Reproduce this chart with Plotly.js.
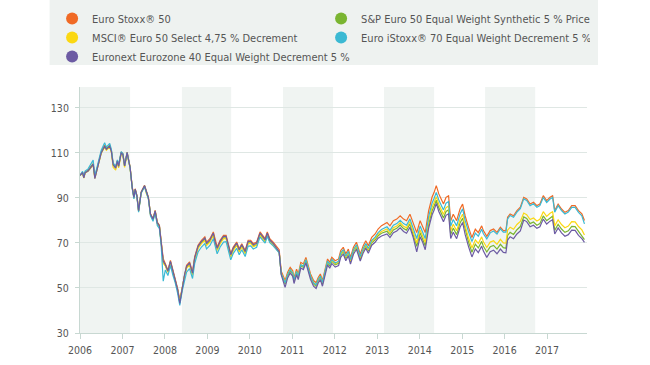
<!DOCTYPE html>
<html>
<head>
<meta charset="utf-8">
<script src="https://cdn.plot.ly/plotly-3.0.1.min.js"></script>
<style>html,body{margin:0;padding:0;background:#fff;}#chart{width:650px;height:365px;}</style>
</head>
<body>
<div id="chart"></div>
<script>
const seriesNames = ["Euro Stoxx® 50", "S&P Euro 50 Equal Weight Synthetic 5 % Price", "MSCI® Euro 50 Select 4,75 % Decrement", "Euro iStoxx® 70 Equal Weight Decrement 5 %", "Euronext Eurozone 40 Equal Weight Decrement 5 %"];
const seriesColors = ["#f06a25", "#7ab531", "#fbd812", "#3bb9d3", "#6c5ba3"];
const yTicks = [30, 50, 70, 90, 110, 130];
const xTicks = [2006, 2007, 2008, 2009, 2010, 2011, 2012, 2013, 2014, 2015, 2016, 2017];

const years = [2006.00,2006.06,2006.09,2006.12,2006.19,2006.25,2006.31,2006.35,2006.40,2006.50,2006.58,2006.62,2006.70,2006.74,2006.78,2006.84,2006.88,2006.91,2006.97,2007.01,2007.05,2007.11,2007.14,2007.18,2007.23,2007.27,2007.30,2007.34,2007.38,2007.44,2007.52,2007.56,2007.61,2007.66,2007.72,2007.77,2007.82,2007.87,2007.91,2007.96,2008.01,2008.07,2008.13,2008.19,2008.24,2008.30,2008.35,2008.41,2008.46,2008.51,2008.58,2008.65,2008.70,2008.78,2008.86,2008.94,2008.98,2009.06,2009.14,2009.18,2009.23,2009.30,2009.38,2009.44,2009.49,2009.55,2009.61,2009.69,2009.75,2009.81,2009.89,2009.96,2010.02,2010.08,2010.16,2010.24,2010.30,2010.36,2010.41,2010.47,2010.55,2010.63,2010.69,2010.74,2010.78,2010.83,2010.89,2010.95,2011.01,2011.04,2011.10,2011.14,2011.20,2011.26,2011.32,2011.37,2011.43,2011.50,2011.56,2011.61,2011.66,2011.71,2011.77,2011.83,2011.88,2011.93,2012.01,2012.09,2012.14,2012.20,2012.26,2012.32,2012.37,2012.44,2012.51,2012.60,2012.67,2012.73,2012.79,2012.87,2012.95,2013.02,2013.10,2013.15,2013.23,2013.30,2013.38,2013.46,2013.54,2013.62,2013.69,2013.77,2013.85,2013.93,2014.01,2014.07,2014.13,2014.21,2014.29,2014.34,2014.39,2014.45,2014.50,2014.56,2014.62,2014.68,2014.73,2014.79,2014.87,2014.95,2015.01,2015.07,2015.15,2015.23,2015.31,2015.38,2015.46,2015.50,2015.58,2015.66,2015.74,2015.82,2015.90,2015.97,2016.03,2016.07,2016.13,2016.21,2016.29,2016.37,2016.45,2016.52,2016.60,2016.68,2016.76,2016.83,2016.91,2016.99,2017.07,2017.13,2017.18,2017.26,2017.34,2017.42,2017.50,2017.58,2017.66,2017.74,2017.82,2017.88];

const euroStoxx50 = [100,101.5,99.3,101.5,102.3,104,105.3,99.3,103,110.4,113.4,112,113.4,111,105.3,103.8,106.7,104.5,110.4,109.7,104.5,110.4,107.5,103.8,94.9,90.4,94.1,91.2,84.5,92.7,95.6,92.7,90.4,83,80.8,84.5,79.3,77.9,71.2,63,60.8,57.9,62.3,57.9,54.9,49.7,44.5,51,56,60.1,61.6,57.1,63.8,69,71.2,72.7,70.4,71.9,74.9,71.2,68.2,71.2,73.4,73.4,69.7,65.3,68.2,70.4,67.5,69.7,66.7,71.2,71.2,69.7,70.4,74.9,73.4,71.9,74.9,71.9,70.4,68.2,67,57.5,55.5,53.3,57,59.2,57.7,54.5,58.4,56.2,61.4,60.7,63.6,59.9,56.2,53.3,52.3,54.7,56.2,53.3,58.4,62.9,61.4,63.6,62.1,62.9,66.6,68.1,65.1,67.3,63.6,68.1,70.3,65.1,68.8,71,68.8,72.5,74,76.2,77.7,78.4,79.1,77.6,79.9,80.6,82.1,80.6,79.9,82.8,78.4,74.6,79.9,77.6,74.6,84.3,90.3,92.5,95.5,91.8,89.6,87.3,90.3,91,79.9,82.8,79.9,85.1,87.3,82.1,76.9,72.4,76.1,74.6,77.6,75.5,73,75.5,76.2,74.7,77,75.5,75.5,81.4,82.9,82.1,84.4,85.9,90.3,89.6,87.3,88.1,86.6,87.3,91,88.8,90.3,91,84.4,87.3,85.1,83.6,84.4,86.6,86.6,84.4,82.9,80];

const spEuro50EW = [100,101.3,99.1,101.3,102.1,103.8,105.1,99.1,102.8,110.2,113.1,111.8,113.1,110.7,104.8,103.4,106.4,104.1,110.1,109.4,104.1,110,107.2,103.5,94.6,90.1,93.8,90.9,84.2,92.4,95.3,92.4,90.1,82.7,80.4,84.2,78.9,77.4,70.7,61.5,60,57.2,61.5,57.1,54.1,49,43.8,50.4,55.3,59.1,60.6,56.1,62.8,68,70.1,71.6,69.3,70.8,73.8,70.1,67.1,70.1,72.3,72.3,68.6,64.2,67.1,69.3,66.4,68.6,65.6,70.1,70.1,68.6,69.3,73.8,72.3,70.8,73.8,70.8,69.3,67.1,65.9,56.2,54.1,51.7,55.5,57.7,56.2,53,56.9,54.7,59.9,59.2,62.1,58.4,54.7,51.8,50.8,53.2,54.7,51.8,56.8,61.3,59.8,61.9,60.3,61,64.6,66.1,63.1,65.3,61.6,66,68.2,63,66.6,68.7,66.5,70.1,71.4,73.2,74.3,74.7,75.2,73.6,75.8,76.5,78,76.4,75.7,78.4,73.8,68.5,74.5,72,68.8,78.4,84.2,86.4,89,85.6,83.4,81.1,84,84.7,73.7,76.6,73.7,78.9,81,75.8,70.4,65.9,69.5,67.8,70.7,68.5,66,68.3,68.9,67.3,69.4,67.9,67.6,73.4,74.7,73.8,75.9,77.3,81.6,80.9,78.6,79.3,77.9,78.6,82,79.9,81.2,81.9,75.6,78.3,76.2,74.7,75.4,77.4,77.3,75.2,73.6,71.5];

const msciEuro50 = [100,101,98.8,101.1,101.8,103.4,104.6,98.7,102.4,109.8,112.7,111.2,112.6,110.2,103.6,102.4,105.6,103.4,109.6,108.9,103.6,109.6,106.8,103.1,94.3,89.9,93.6,90.7,84,92.2,95.1,92.1,89.8,82.4,80.2,83.9,78.6,77.1,70.4,61,59.8,57,61.2,56.8,53.8,48.8,43.6,50.2,55,58.8,60.2,55.8,62.4,67.6,69.7,71.2,68.9,70.4,73.4,69.7,66.7,69.7,71.9,71.9,68.2,63.8,66.7,68.9,66,68.2,65.2,69.7,69.8,68.3,69,73.5,72,70.5,73.5,70.6,69.1,66.9,65.8,56.4,54.5,52.3,56,58.2,56.7,53.5,57.4,55.2,60.4,59.7,62.6,58.9,55.2,52.3,51.3,53.7,55.2,52.3,57.3,61.8,60.3,62.4,60.8,61.5,65.1,66.6,63.6,65.8,62.1,66.5,68.7,63.5,67.1,69.2,67,70.6,72,73.9,75.1,75.6,76.2,74.6,76.8,77.5,79,77.4,76.7,79.5,75,70,75.8,73.4,70.3,79.9,85.8,88,90.6,87.2,85,82.7,85.7,86.4,75.4,78.3,75.4,80.6,82.8,77.6,72.3,67.8,71.4,69.8,72.7,70.5,68,70.4,71,69.4,71.6,70,69.9,75.7,77,76.1,78.2,79.6,83.3,82.6,80.4,81.1,79.8,80.5,83.9,81.8,83.2,83.9,77.6,80.3,78.2,76.8,77.5,79.5,79.4,77.3,75.8,73.5];

const euroIStoxx70 = [100,101.8,99.5,101.9,102.9,105,106.8,99.8,103.6,111.2,114.5,112.6,114.2,111.5,105.6,104,106.9,104.7,110.6,109.8,104.3,110.2,107.1,103.3,94.2,89.6,93.5,90.5,83.7,92.1,95,92,89.6,82.1,79.6,83.6,77.8,76.4,69.4,53,58,55.5,60,55.5,52.5,47.6,42.3,49,53.5,57,58.6,54.2,60.8,66,68.2,69.7,67.4,68.9,71.9,68.2,65.2,68.2,70.4,70.6,66.8,62.5,65.4,67.6,64.8,67,64,68.6,68.7,67.3,68.1,72.7,71.3,69.9,73,70.1,68.7,66.6,65.6,56.3,54.5,52.3,56,58.2,56.7,53.5,57.4,55.2,60.4,59.7,62.6,58.9,55.2,52.3,51.4,53.8,55.3,52.4,57.5,62,60.5,62.7,61.1,61.9,65.6,67.1,64.1,66.3,62.6,67,69.2,64,67.6,69.8,67.6,71.2,72.6,74.6,76,76.6,77.2,75.6,77.9,78.6,80.1,78.6,77.9,80.7,76.2,72,77.5,75.1,72,81.7,87.7,89.9,92.5,89.1,87,84.7,87.7,88.4,77.5,80.4,77.6,82.9,85.2,80.1,75,70.6,74.4,73,76.1,74.1,71.8,74.5,75.3,73.9,76.3,74.8,74.8,80.7,82.2,81.4,83.7,85.2,89.6,88.9,86.6,87.4,85.9,86.6,90.2,88,89.5,90.2,83.7,86.6,84.4,82.9,83.7,85.8,85.8,83.6,82,78.5];

const euronextEZ40 = [100,101.2,98.9,101.2,102,103.6,104.9,98.6,102.6,110,113,111.6,112.9,110.5,104.7,103.3,106.2,104,109.9,109.3,104.2,110.1,107.2,103.5,94.6,90.2,93.9,91,84.4,92.5,95.4,92.5,90.2,82.8,80.6,84.3,79,77.6,70.9,62,60.3,57.5,61.8,57.4,54.4,49.3,43.2,50.7,55.7,59.6,61.1,56.6,63.3,68.5,70.7,72.2,69.9,71.4,74.4,70.7,67.7,70.7,72.9,72.9,69.2,64.8,67.7,69.9,67,69.2,66.2,70.7,70.7,69.2,69.9,74.4,72.9,71.4,74.4,71.3,69.8,67.5,66.1,55.8,53.3,50.3,54.5,56.7,55.2,52,55.9,53.7,58.9,58.2,61.1,57.4,53.7,50.8,49.8,52.2,53.7,50.8,55.8,60.3,58.8,60.9,59.3,60,63.6,65.1,62.1,64.3,60.6,65,67.2,62,65.6,67.7,65.4,69,70.3,72.1,73.1,73.5,74,72.4,74.6,75.3,76.7,75.1,74.3,77,72.3,66,72.8,70.3,67,76.6,82.4,84.6,87.6,84,81.8,79.4,82.3,83,72,74.8,71.9,77,79.1,73.8,68.4,63.8,67.4,65.7,68.6,66.4,63.6,66.1,66.8,65.2,67.3,65.8,65.6,71.3,72.8,71.9,74,75.4,80.2,79.5,77.2,77.9,76.5,77.2,80.6,78.4,79.7,80.3,74,76.7,74.5,73,73.7,75.7,75.6,73.4,71.9,70.3];

const seriesValues = [euroStoxx50, spEuro50EW, msciEuro50, euroIStoxx70, euronextEZ40];

const FONT = "'DejaVu Sans Condensed', 'Roboto', sans-serif";
const traces = [];
seriesValues.forEach((vals, i) => {
  traces.push({
    type: 'scatter', mode: 'lines', x: years, y: vals,
    line: {color: seriesColors[i], width: 1.2},
    showlegend: false, hoverinfo: 'skip'
  });
});
seriesNames.forEach((name, i) => {
  traces.push({
    type: 'scatter', mode: 'markers', x: [null], y: [null], name: name,
    marker: {color: seriesColors[i], size: 10, symbol: 'circle'},
    showlegend: true
  });
});

const bands = [[2006.0, 2007.18], [2008.4, 2009.56], [2010.78, 2011.96], [2013.16, 2014.34], [2015.54, 2016.72]];
const shapes = bands.map(b => ({
  type: 'rect', xref: 'x', yref: 'paper', x0: b[0], x1: b[1], y0: 0, y1: 1,
  fillcolor: '#f0f4f2', line: {width: 0}, layer: 'below'
}));
shapes.push({
  type: 'rect', xref: 'paper', yref: 'paper', x0: -0.06, x1: 1.0217, y0: 1.089, y1: 1.36,
  fillcolor: '#eef2f0', line: {width: 0}, layer: 'below'
});

const layout = {
  width: 650, height: 365,
  margin: {l: 80, r: 63, t: 87, b: 32, autoexpand: false},
  paper_bgcolor: '#ffffff', plot_bgcolor: 'rgba(0,0,0,0)',
  font: {family: FONT, size: 11, color: '#555555'},
  shapes: shapes,
  showlegend: true,
  legend: {
    orientation: 'h', x: -0.055, xanchor: 'left', y: 1.337, yanchor: 'top',
    entrywidth: 224, entrywidthmode: 'pixels',
    bgcolor: 'rgba(0,0,0,0)', font: {family: FONT, size: 11, color: '#555555'},
    itemsizing: 'constant', traceorder: 'normal', tracegroupgap: 0
  },
  xaxis: {
    range: [2006, 2017.94], tickmode: 'array', tickvals: xTicks, ticktext: xTicks.map(String),
    showgrid: false, zeroline: false, showline: true, linecolor: '#c8d8d2', linewidth: 1,
    ticks: 'outside', ticklen: 5, tickcolor: '#c8d8d2', ticklabelstandoff: 2,
    tickfont: {family: FONT, size: 10.5, color: '#555555'}
  },
  yaxis: {
    range: [30, 139.3], tickmode: 'array', tickvals: yTicks, ticktext: yTicks.map(String),
    showgrid: true, gridcolor: '#dfe7e4', gridwidth: 1, zeroline: false,
    showline: true, linecolor: '#c8d8d2', linewidth: 1,
    ticks: 'outside', ticklen: 4, tickcolor: '#c8d8d2', ticklabelstandoff: 4,
    tickfont: {family: FONT, size: 10.5, color: '#555555'}
  }
};

Plotly.newPlot('chart', traces, layout, {displayModeBar: false, staticPlot: true});
</script>
</body>
</html>
